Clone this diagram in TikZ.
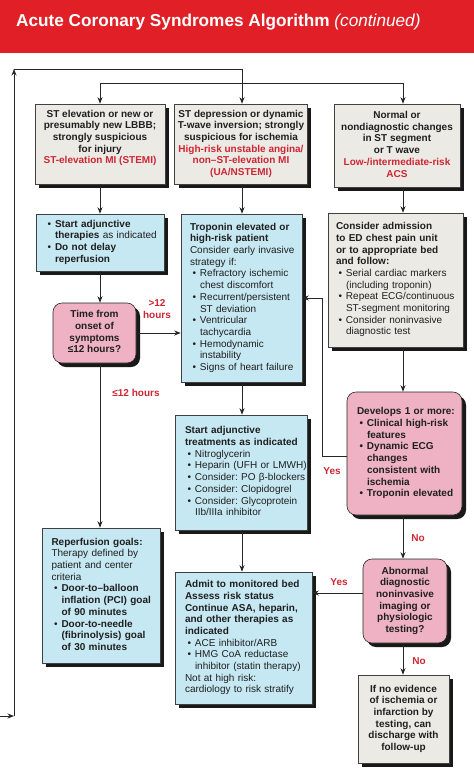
\documentclass[tikz,border=0pt]{standalone}
\usepackage{fontspec}
\setmainfont{Liberation Sans}
\usetikzlibrary{arrows.meta,shadows}
\definecolor{hdrred}{RGB}{224,32,38}
\definecolor{redtxt}{RGB}{205,38,52}
\definecolor{grayfill}{RGB}{236,234,228}
\definecolor{cyanfill}{RGB}{198,232,242}
\definecolor{pinkfill}{RGB}{238,178,196}
\newcommand{\fsz}{\fontsize{10}{11.7}\selectfont}
\newcommand{\bul}{\makebox[10pt][l]{\hspace{2.5pt}\textbullet}}
\newcommand{\ind}{\hspace*{10pt}}
\newcommand{\rt}[1]{\textcolor{redtxt}{#1}}
\newcommand{\tl}[1]{\begin{tabular}{@{}l@{}}#1\end{tabular}}
\newcommand{\tcn}[1]{\begin{tabular}{@{}c@{}}#1\end{tabular}}
\frenchspacing
\begin{document}
\frenchspacing
\begin{tikzpicture}[x=1pt,y=-1pt, font=\fsz, text=black!88,
  shd/.style={general shadow={fill=black!90, shadow xshift=4pt, shadow yshift=-4pt}},
  boxbase/.style={draw=black!75, line width=0.6pt, shd, inner ysep=0pt},
  graybox/.style={boxbase, fill=grayfill},
  cyanbox/.style={boxbase, fill=cyanfill},
  pinkbox/.style={boxbase, fill=pinkfill, rounded corners=9pt, draw=black!85},
  bold/.style={font=\fsz\bfseries},
  conn/.style={draw=black!85, line width=0.8pt},
  arr/.style={conn, -{Stealth[length=6.5pt,width=5pt]}},
  lbl/.style={text=redtxt, font=\fsz\bfseries, align=center, inner sep=0pt},
]
\useasboundingbox (0,0) rectangle (474,777);
\fill[white] (0,0) rectangle (474,777);
% header
\fill[hdrred] (0,0) rectangle (474,53);
\node[anchor=base west, text=white, inner sep=0pt, font=\fontsize{17.2}{20}\selectfont\bfseries] (title) at (16,26)
  {Acute Coronary Syndromes Algorithm {\mdseries\itshape (continued)}};

% top row
\node[graybox, bold, minimum width=130pt, minimum height=80pt] (b1) at (100,144)
  {\tcn{ST elevation or new or\\presumably new LBBB;\\strongly suspicious\\for injury\\\rt{ST-elevation MI (STEMI)}\\\mbox{}}};
\node[graybox, bold, minimum width=132pt, minimum height=80pt] (b2) at (241,144)
  {\tcn{ST depression or dynamic\\T-wave inversion; strongly\\suspicious for ischemia\\\rt{High-risk unstable angina/}\\\rt{non–ST-elevation MI}\\\rt{(UA/NSTEMI)}}};
\node[graybox, bold, minimum width=126pt, minimum height=83pt] (b3) at (397,145.5)
  {\tcn{Normal or\\nondiagnostic changes\\in ST segment\\or T wave\\\rt{Low-/intermediate-risk}\\\rt{ACS}}};

% left column
\node[cyanbox, minimum width=128pt, minimum height=57pt, inner xsep=9pt, text width=110pt, align=left] (b4) at (100,242.5)
  {\tl{\bul\textbf{Start adjunctive}\\\ind\textbf{therapies} as indicated\\\bul\textbf{Do not delay}\\\ind\textbf{reperfusion}}};
\node[pinkbox, bold, minimum width=83pt, minimum height=60pt] (d1) at (94.5,333)
  {\tcn{Time from\\onset of\\symptoms\\≤12 hours?}};
\node[cyanbox, minimum width=118pt, minimum height=135pt, inner xsep=9.5pt, text width=99pt, align=left] (b12) at (101,595.5)
  {\tl{\textbf{Reperfusion goals:}\\Therapy defined by\\patient and center\\criteria\\\bul\textbf{Door-to–balloon}\\\ind\textbf{inflation (PCI) goal}\\\ind\textbf{of 90 minutes}\\\bul\textbf{Door-to-needle}\\\ind\textbf{(fibrinolysis) goal}\\\ind\textbf{of 30 minutes}}};

% middle column
\node[cyanbox, minimum width=121pt, minimum height=168pt, inner xsep=9pt, text width=103pt, align=left] (b5) at (241.5,298)
  {\tl{\textbf{Troponin elevated or}\\\textbf{high-risk patient}\\Consider early invasive\\strategy if:\\\bul Refractory ischemic\\\ind chest discomfort\\\bul Recurrent/persistent\\\ind ST deviation\\\bul Ventricular\\\ind tachycardia\\\bul Hemodynamic\\\ind instability\\\bul Signs of heart failure}};
\node[cyanbox, minimum width=132pt, minimum height=115pt, inner xsep=10pt, text width=112pt, align=left] (b11) at (241,472.5)
  {\tl{\textbf{Start adjunctive}\\\textbf{treatments as indicated}\\\bul Nitroglycerin\\\bul Heparin (UFH or LMWH)\\\bul Consider: PO β-blockers\\\bul Consider: Clopidogrel\\\bul Consider: Glycoprotein\\\ind IIb/IIIa inhibitor}};
\node[cyanbox, minimum width=137pt, minimum height=132pt, inner xsep=10pt, text width=117pt, align=left] (b10) at (243.5,638)
  {\tl{\textbf{Admit to monitored bed}\\\textbf{Assess risk status}\\\textbf{Continue ASA, heparin,}\\\textbf{and other therapies as}\\\textbf{indicated}\\\bul ACE inhibitor/ARB\\\bul HMG CoA reductase\\\ind inhibitor (statin therapy)\\Not at high risk:\\cardiology to risk stratify}};

% right column
\node[graybox, minimum width=135pt, minimum height=134pt, inner xsep=8pt, text width=119pt, align=left] (b6) at (395.5,280)
  {\tl{\textbf{Consider admission}\\\textbf{to ED chest pain unit}\\\textbf{or to appropriate bed}\\\textbf{and follow:}\\\bul Serial cardiac markers\\\ind (including troponin)\\\bul Repeat ECG/continuous\\\ind ST-segment monitoring\\\bul Consider noninvasive\\\ind diagnostic test}};
\node[pinkbox, bold, minimum width=115pt, minimum height=123pt, inner xsep=10pt, text width=95pt, align=left] (b7) at (404.5,453.5)
  {\tl{Develops 1 or more:\\\bul Clinical high-risk\\\ind features\\\bul Dynamic ECG\\\ind changes\\\ind consistent with\\\ind ischemia\\\bul Troponin elevated}};
\node[pinkbox, bold, minimum width=84pt, minimum height=84pt] (b8) at (405,601)
  {\tcn{Abnormal\\diagnostic\\noninvasive\\imaging or\\physiologic\\testing?}};
\node[graybox, bold, minimum width=91pt, minimum height=88pt] (b9) at (403.5,719)
  {\tcn{If no evidence\\of ischemia or\\infarction by\\testing, can\\discharge with\\follow-up}};

% helper coordinates
\coordinate (inL) at (0,716);
\coordinate (cL) at (14,716);
\coordinate (tL) at (14,69);
\coordinate (tM) at (242,69);
\coordinate (h1) at (100,83);
\coordinate (h3) at (403,83);
\coordinate (colL) at (100,0);
\coordinate (colM) at (242,0);
\coordinate (colR) at (403,0);
\coordinate (yesx) at (322,0);

% top connectors
\draw[arr] (inL) -- (cL);
\draw[arr] (cL) -- (tL);
\draw[arr] (tL) -- (tM) -- (tM |- b2.north);
\draw[conn] (h1) -- (h3);
\draw[arr] (h1) -- (h1 |- b1.north);
\draw[arr] (h3) -- (h3 |- b3.north);

% left column connectors
\draw[arr] (b1.south -| colL) -- (b4.north -| colL);
\draw[arr] (b4.south -| colL) -- (d1.north -| colL);
\draw[arr] (d1.south -| colL) -- (b12.north -| colL);
\draw[arr] (d1.east) -- (d1.east -| b5.west);

% middle column connectors
\draw[arr] (b2.south -| colM) -- (b5.north -| colM);
\draw[arr] (b5.south -| colM) -- (b11.north -| colM);
\draw[arr] (b11.south -| colM) -- (b10.north -| colM);

% right column connectors
\draw[arr] (b3.south -| colR) -- (b6.north -| colR);
\draw[arr] (b6.south -| colR) -- (b7.north -| colR);
\draw[arr] (b7.south -| colR) -- (b8.north -| colR);
\draw[arr] (b8.south -| colR) -- (b9.north -| colR);
\draw[arr] ([yshift=-3pt]b7.west) -- ([yshift=-3pt]b7.west -| yesx) |- (b5.east);
\draw[arr] ([yshift=8pt]b8.west) -- ([yshift=8pt]b8.west -| b10.east);

% labels
\node[lbl] (gt12) at (157,309) {>12\\hours};
\node[lbl] (le12) at (136,393) {≤12 hours};
\node[lbl] (yes1) at (332,471) {Yes};
\node[lbl] (no1) at (418,538) {No};
\node[lbl] (yes2) at (339,582) {Yes};
\node[lbl] (no2) at (419,661) {No};
\end{tikzpicture}
\end{document}
